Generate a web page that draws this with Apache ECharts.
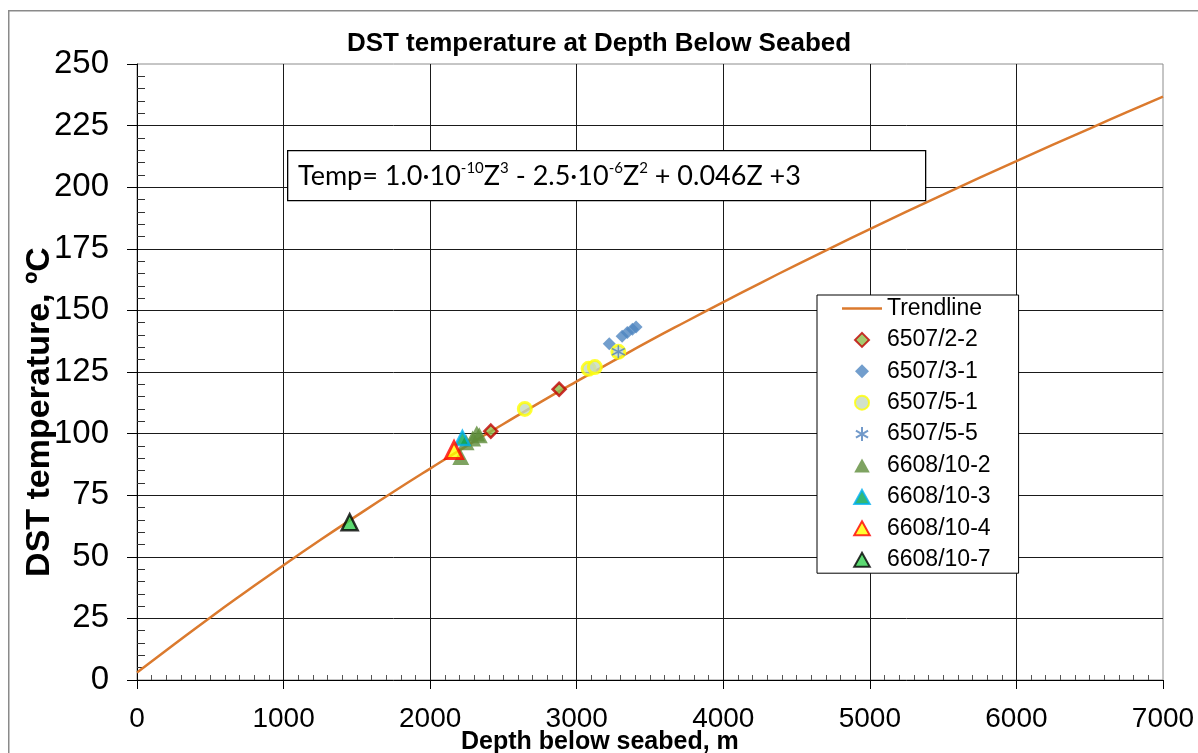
<!DOCTYPE html>
<html>
<head>
<meta charset="utf-8">
<script src="https://cdn.jsdelivr.net/npm/echarts@6/dist/echarts.min.js"></script>
<style>
html,body{margin:0;padding:0;background:#fff;}
#chart{width:1198px;height:753px;}
</style>
</head>
<body>
<div id="chart"></div>
<script>
// ---- Data ----
var trendDepth = [0,250,500,750,1000,1250,1500,1750,2000,2250,2500,2750,3000,3250,3500,3750,4000,4250,4500,4750,5000,5250,5500,5750,6000,6250,6500,6750,7000];
var trendTemp  = [3,14.3,25.4,36.1,46.6,56.8,66.7,76.4,85.8,95.0,103.9,112.7,121.2,129.5,137.7,145.6,153.4,161.0,168.5,175.8,183.0,190.1,197.0,203.9,210.6,217.3,223.8,230.4,236.8];

var w6507_2_2_depth = [2414, 2880];
var w6507_2_2_temp  = [101.0, 118.0];
var w6507_3_1_depth = [3222, 3310, 3345, 3380, 3405];
var w6507_3_1_temp  = [136.5, 139.5, 141.0, 142.3, 143.3];
var w6507_5_1_depth = [2646, 3081, 3124, 3284];
var w6507_5_1_temp  = [110.0, 126.3, 127.0, 133.2];
var w6507_5_5_depth = [3284];
var w6507_5_5_temp  = [133.2];
var w6608_10_2_depth = [2209, 2245, 2290, 2318, 2335];
var w6608_10_2_temp  = [90.5, 96.5, 98.0, 100.0, 99.3];
var w6608_10_3_depth = [2220];
var w6608_10_3_temp  = [98.2];
var w6608_10_4_depth = [2163];
var w6608_10_4_temp  = [93.3];
var w6608_10_7_depth = [1451];
var w6608_10_7_temp  = [64.0];

var chartTitle = 'DST temperature at Depth Below Seabed';
var xAxisTitle = 'Depth below seabed, m';
var yAxisTitle = 'DST temperature, \u00BAC';

function pairs(xs, ys){ return xs.map(function(x,i){ return [x, ys[i]]; }); }

var FONT = '"Liberation Sans", Arial, sans-serif';
var starPath = 'path://M5,0 L5,10 M0.67,2.5 L9.33,7.5 M0.67,7.5 L9.33,2.5';
var iconLine = 'path://M0,0 L40,0 L40,2.5 L0,2.5 Z';
var iconDiamond = 'path://M5,0 L10,5 L5,10 L0,5 Z';
var iconCircle = 'path://M0,5 A5,5 0 1 1 10,5 A5,5 0 1 1 0,5 Z';
var iconTriangle = 'path://M5,0 L10,9 L0,9 Z';

var chart = echarts.init(document.getElementById('chart'), null, {renderer:'canvas'});

var option = {
  animation: false,
  backgroundColor: '#fff',
  title: {
    text: chartTitle,
    left: 'center',
    top: 26,
    textStyle: {fontFamily: FONT, fontWeight: 'bold', fontSize: 26, color: '#000'}
  },
  grid: {left: 137, right: 35, top: 64, bottom: 73, show: true, borderColor: '#8c8c8c', borderWidth: 1, backgroundColor: 'transparent'},
  legend: {
    orient: 'vertical',
    left: 817, top: 295,
    padding: [2, 28, 2, 25],
    itemWidth: 40, itemHeight: 14, itemGap: 8.4,
    backgroundColor: '#fff',
    borderColor: '#000', borderWidth: 1,
    textStyle: {fontFamily: FONT, fontSize: 23, color: '#000'},
    data: [
      {name: 'Trendline', icon: iconLine},
      {name: '6507/2-2', icon: iconDiamond},
      {name: '6507/3-1', icon: iconDiamond},
      {name: '6507/5-1', icon: iconCircle},
      {name: '6507/5-5', icon: starPath},
      {name: '6608/10-2', icon: iconTriangle},
      {name: '6608/10-3', icon: iconTriangle},
      {name: '6608/10-4', icon: iconTriangle},
      {name: '6608/10-7', icon: iconTriangle}
    ]
  },
  xAxis: [{
    type: 'value', min: 0, max: 7000, interval: 1000, position: 'bottom',
    axisLine: {show: true, onZero: false, lineStyle: {color: '#000', width: 1}},
    axisTick: {show: true, inside: false, length: 9, lineStyle: {color: '#000'}},
    axisLabel: {fontFamily: FONT, fontSize: 28, color: '#000', margin: 25, formatter: function(v){ return String(v); }},
    splitLine: {show: true, showMinLine: false, showMaxLine: false, lineStyle: {color: '#1a1a1a', width: 1}},
    minorTick: {show: false}
  }, {
    type: 'value', min: 0, max: 7000, interval: 1000, position: 'bottom',
    axisLine: {show: false, onZero: false},
    axisTick: {show: false, inside: true},
    axisLabel: {show: false},
    splitLine: {show: false},
    minorTick: {show: true, splitNumber: 10, length: 5, lineStyle: {color: '#555', width: 1}}
  }],
  yAxis: [{
    type: 'value', min: 0, max: 250, interval: 25, position: 'left',
    axisLine: {show: true, onZero: false, lineStyle: {color: '#000', width: 1}},
    axisTick: {show: true, inside: false, length: 10, lineStyle: {color: '#000'}},
    axisLabel: {fontFamily: FONT, fontSize: 33, color: '#000', margin: 28},
    splitLine: {show: true, showMinLine: false, showMaxLine: false, lineStyle: {color: '#1a1a1a', width: 1}},
    minorTick: {show: false}
  }, {
    type: 'value', min: 0, max: 250, interval: 25, position: 'left',
    axisLine: {show: false, onZero: false},
    axisTick: {show: false, inside: true},
    axisLabel: {show: false},
    splitLine: {show: false},
    minorTick: {show: true, splitNumber: 5, length: 8, lineStyle: {color: '#333', width: 1}}
  }],
  graphic: [
    {type: 'rect', left: 8, top: 10, z: -10, silent: true,
     shape: {x: 0, y: 0, width: 1400, height: 900},
     style: {fill: 'transparent', stroke: '#8a8a8a', lineWidth: 1.5}},
    {type: 'rect', left: 287, top: 150, z: 50,
     shape: {x: 0, y: 0, width: 638, height: 50},
     style: {fill: '#fff', stroke: '#000', lineWidth: 1.3}},
    {type: 'text', left: 298, top: 161, z: 51,
     style: {
       text: 'Temp= 1.0\u00B710{s|-10}Z{s|3} - 2.5\u00B710{s|-6}Z{s|2} + 0.046Z +3',
       font: '27px Lato, "Open Sans", sans-serif',
       fill: '#000',
       rich: {
         s: {fontSize: 15, fontFamily: 'Lato, "Open Sans", sans-serif', fill: '#000', verticalAlign: 'top', lineHeight: 30, padding: [0,0,14,0]}
       }
     }},
    {type: 'text', left: 461, top: 730, z: 51,
     style: {text: xAxisTitle, font: 'bold 25px "Liberation Sans", Arial, sans-serif', fill: '#000'}},
    {type: 'text', x: 40, y: 412, rotation: Math.PI/2, z: 51,
     style: {text: yAxisTitle, font: 'bold 34px "Liberation Sans", Arial, sans-serif', fill: '#000', align: 'center', verticalAlign: 'middle'}}
  ],
  series: [
    {name: 'Trendline', type: 'line', data: pairs(trendDepth, trendTemp), showSymbol: false, symbol: 'none', smooth: true,
     lineStyle: {color: '#DB7A2E', width: 2.5}, itemStyle: {color: '#DB7A2E'}, z: 2},
    {name: '6507/2-2', type: 'scatter', data: pairs(w6507_2_2_depth, w6507_2_2_temp), symbol: 'diamond', symbolSize: 13,
     itemStyle: {color: '#8DBE4C', borderColor: '#C00000', borderWidth: 2.5}, z: 3},
    {name: '6507/3-1', type: 'scatter', data: pairs(w6507_3_1_depth, w6507_3_1_temp), symbol: 'diamond', symbolSize: 13,
     itemStyle: {color: '#4F86C0'}, z: 3},
    {name: '6507/5-1', type: 'scatter', data: pairs(w6507_5_1_depth, w6507_5_1_temp), symbol: 'circle', symbolSize: 13,
     itemStyle: {color: '#C6D9BF', borderColor: '#FFFF00', borderWidth: 3}, z: 3},
    {name: '6507/5-5', type: 'scatter', data: pairs(w6507_5_5_depth, w6507_5_5_temp), symbol: starPath, symbolSize: 13,
     itemStyle: {color: 'transparent', borderColor: '#4F81BD', borderWidth: 1.5}, z: 3},
    {name: '6608/10-2', type: 'scatter', data: pairs(w6608_10_2_depth, w6608_10_2_temp), symbol: 'triangle', symbolSize: [17,16],
     itemStyle: {color: '#5E8C3A'}, z: 3},
    {name: '6608/10-3', type: 'scatter', data: pairs(w6608_10_3_depth, w6608_10_3_temp), symbol: 'triangle', symbolSize: 14,
     itemStyle: {color: '#00A651', borderColor: '#00B0F0', borderWidth: 2.5}, z: 3},
    {name: '6608/10-4', type: 'scatter', data: pairs(w6608_10_4_depth, w6608_10_4_temp), symbol: 'triangle', symbolSize: 17,
     itemStyle: {color: '#FFFF00', borderColor: '#FF0000', borderWidth: 3}, z: 3},
    {name: '6608/10-7', type: 'scatter', data: pairs(w6608_10_7_depth, w6608_10_7_temp), symbol: 'triangle', symbolSize: 16,
     itemStyle: {color: '#33D14F', borderColor: '#000', borderWidth: 2.5}, z: 3}
  ]
};
chart.setOption(option);
</script>
</body>
</html>
